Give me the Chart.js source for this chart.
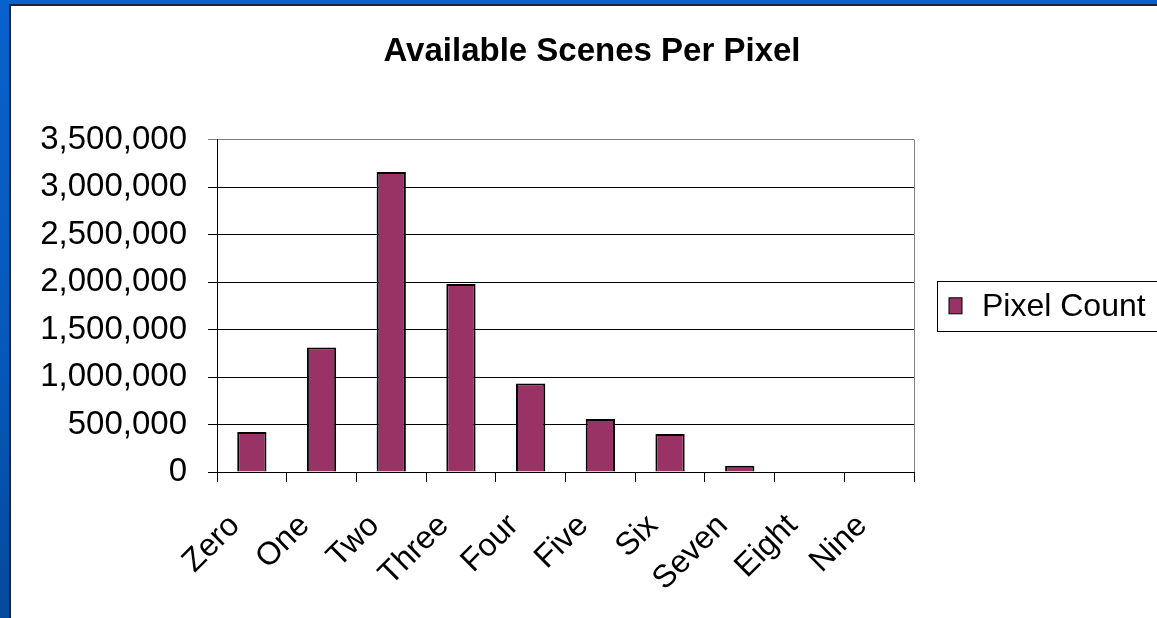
<!DOCTYPE html>
<html>
<head>
<meta charset="utf-8">
<title>Available Scenes Per Pixel</title>
<script src="https://cdn.jsdelivr.net/npm/chart.js@4"></script>
<style>
  html, body {
    margin: 0;
    padding: 0;
    width: 1157px;
    height: 618px;
    overflow: hidden;
  }
  body {
    background: linear-gradient(180deg, #0862cc 0%, #0558b8 60%, #044a9c 100%);
  }
  #slide {
    position: absolute;
    left: 9px;
    top: 4px;
    width: 1170px;
    height: 620px;
    border-left: 2px solid #14233f;
    border-top: 2px solid #14233f;
    background: #fff;
    overflow: hidden;
  }
  #chartBox {
    position: absolute;
    left: 0;
    top: 0;
    width: 1162px;
    height: 612px;
  }
</style>
</head>
<body>
<div id="slide">
  <div id="chartBox"><canvas id="scenesChart"></canvas></div>
</div>
<script>
const categories = ["Zero", "One", "Two", "Three", "Four", "Five", "Six", "Seven", "Eight", "Nine"];
const pixelCounts = [421000, 1312000, 3158000, 1980000, 933000, 558000, 400000, 66000, 0, 0];
const yTicks = [0, 500000, 1000000, 1500000, 2000000, 2500000, 3000000, 3500000];

const fontFamily = "'Liberation Sans', Arial, sans-serif";

// legend with a framed box, sitting to the right of the plot
const boxedLegend = {
  id: "boxedLegend",
  afterDraw(chart) {
    const ctx = chart.ctx;
    const area = chart.chartArea;
    const ds = chart.data.datasets[0];
    const left = area.right + 23;
    const midY = (area.top + area.bottom) / 2;
    ctx.save();
    ctx.strokeStyle = "#000";
    ctx.lineWidth = 1;
    ctx.strokeRect(Math.round(left) + 0.5, Math.round(midY - 25) + 0.5, 300, 50);
    ctx.fillStyle = ds.backgroundColor;
    ctx.fillRect(left + 12, midY - 8, 13, 16);
    ctx.strokeRect(left + 12, midY - 8, 13, 16);
    ctx.fillStyle = "#000";
    ctx.font = "32px " + fontFamily;
    ctx.textBaseline = "middle";
    ctx.fillText(ds.label, left + 45, midY + 1);
    // right edge of the plot area
    ctx.strokeStyle = "#808080";
    ctx.beginPath();
    ctx.moveTo(Math.round(area.right) + 0.5, area.top);
    ctx.lineTo(Math.round(area.right) + 0.5, area.bottom);
    ctx.stroke();
    ctx.restore();
  }
};

const ctx = document.getElementById("scenesChart").getContext("2d");

new Chart(ctx, {
  type: "bar",
  data: {
    labels: categories,
    datasets: [
      {
        label: "Pixel Count",
        data: pixelCounts,
        backgroundColor: "#993366",
        borderColor: "#000",
        borderWidth: 2,
        borderSkipped: "bottom",
        barPercentage: 0.42,
        categoryPercentage: 1
      }
    ]
  },
  options: {
    responsive: true,
    maintainAspectRatio: false,
    animation: false,
    layout: {
      padding: 0
    },
    plugins: {
      legend: { display: false },
      tooltip: { enabled: false },
      title: {
        display: true,
        text: "Available Scenes Per Pixel",
        color: "#000",
        font: { family: fontFamily, size: 33, weight: "bold" },
        padding: { top: 26, bottom: 68 }
      }
    },
    scales: {
      x: {
        grid: {
          offset: true,
          drawOnChartArea: false,
          drawTicks: true,
          tickLength: 10,
          color: "#000"
        },
        border: { color: "#000", width: 1 },
        ticks: {
          color: "#000",
          font: { family: fontFamily, size: 32 },
          minRotation: 45,
          maxRotation: 45,
          autoSkip: false,
          labelOffset: -17,
          padding: 25
        },
        afterFit(scale) {
          scale.height = 146;
        }
      },
      y: {
        min: 0,
        max: yTicks[yTicks.length - 1],
        afterBuildTicks(scale) {
          scale.ticks = yTicks.map(v => ({ value: v }));
        },
        grid: {
          color: c => (c.tick && c.tick.value === 3500000 ? "#808080" : "#000"),
          tickLength: 9,
          lineWidth: 1
        },
        border: { color: "#000", width: 1 },
        ticks: {
          color: "#000",
          font: { family: fontFamily, size: 33 },
          padding: 21,
          callback: v => v.toLocaleString("en-US")
        },
        afterFit(scale) {
          scale.width = 206;
        }
      },
      // empty right-hand band that leaves room for the legend box
      legendBand: {
        type: "linear",
        position: "right",
        grid: { display: false },
        border: { display: false },
        ticks: { display: false },
        afterFit(scale) {
          scale.width = 259;
        }
      }
    }
  },
  plugins: [boxedLegend]
});
</script>
</body>
</html>
